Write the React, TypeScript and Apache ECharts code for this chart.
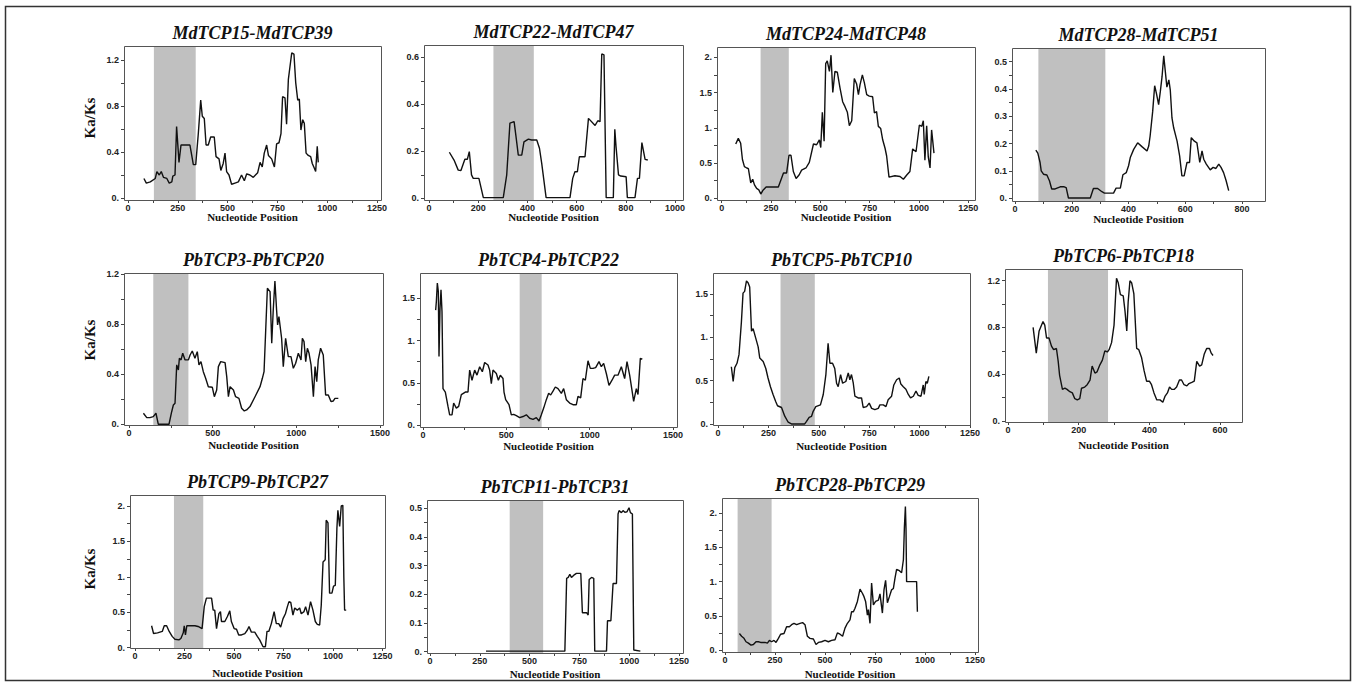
import React, { useEffect, useRef } from 'react';
import * as echarts from 'echarts';

const titles = [
  'MdTCP15-MdTCP39', 'MdTCP22-MdTCP47', 'MdTCP24-MdTCP48', 'MdTCP28-MdTCP51',
  'PbTCP3-PbTCP20', 'PbTCP4-PbTCP22', 'PbTCP5-PbTCP10', 'PbTCP6-PbTCP18',
  'PbTCP9-PbTCP27', 'PbTCP11-PbTCP31', 'PbTCP28-PbTCP29',
];

// ---- Ka/Ks sliding-window values (x = nucleotide position) ----
const p1X = [80, 92, 112, 137, 145, 157, 167, 178, 195, 207, 220, 225, 236, 244, 256, 266, 311, 320, 328, 340, 353, 365, 373, 383, 392, 403, 415, 433, 442, 457, 466, 478, 487, 495, 507, 520, 537, 554, 570, 584, 596, 612, 629, 651, 663, 674, 684, 696, 705, 721, 735, 746, 758, 768, 776, 788, 796, 805, 813, 822, 833, 842, 852, 860, 868, 877, 885, 894, 905, 917, 925, 935, 942, 950, 955];
const p1Y = [0.17, 0.13, 0.14, 0.17, 0.23, 0.2, 0.23, 0.18, 0.17, 0.13, 0.14, 0.19, 0.2, 0.62, 0.31, 0.46, 0.46, 0.37, 0.29, 0.29, 0.56, 0.85, 0.71, 0.69, 0.46, 0.46, 0.53, 0.53, 0.36, 0.34, 0.24, 0.3, 0.39, 0.23, 0.2, 0.12, 0.13, 0.14, 0.2, 0.15, 0.21, 0.2, 0.18, 0.22, 0.31, 0.27, 0.39, 0.46, 0.37, 0.34, 0.27, 0.47, 0.48, 0.56, 0.88, 0.87, 0.64, 1.03, 1.14, 1.26, 1.25, 1.0, 0.85, 0.86, 0.59, 0.68, 0.65, 0.39, 0.37, 0.36, 0.3, 0.26, 0.23, 0.45, 0.31];

const p2X = [83, 102, 119, 130, 146, 156, 164, 173, 180, 203, 221, 302, 316, 329, 346, 354, 363, 377, 386, 404, 417, 438, 449, 458, 476, 573, 584, 593, 603, 611, 634, 648, 675, 686, 695, 702, 711, 720, 749, 755, 760, 770, 779, 801, 806, 837, 847, 855, 865, 878, 889];
const p2Y = [0.196, 0.163, 0.12, 0.118, 0.166, 0.166, 0.199, 0.1, 0.085, 0.085, 0.003, 0.003, 0.1, 0.32, 0.326, 0.26, 0.184, 0.184, 0.24, 0.252, 0.248, 0.248, 0.213, 0.15, 0.003, 0.003, 0.085, 0.113, 0.113, 0.177, 0.177, 0.34, 0.31, 0.33, 0.326, 0.614, 0.61, 0.003, 0.003, 0.294, 0.22, 0.1, 0.095, 0.092, 0.003, 0.003, 0.085, 0.085, 0.237, 0.166, 0.163];

const p3X = [71, 84, 96, 105, 115, 127, 135, 147, 157, 166, 177, 188, 198, 208, 225, 270, 287, 313, 329, 341, 351, 363, 377, 392, 405, 427, 444, 465, 481, 495, 502, 510, 519, 527, 535, 546, 554, 563, 574, 586, 600, 613, 625, 637, 647, 659, 672, 684, 693, 701, 713, 723, 735, 748, 765, 774, 785, 794, 806, 816, 828, 836, 848, 878, 904, 921, 938, 954, 968, 985, 1002, 1014, 1022, 1030, 1039, 1047, 1056, 1064, 1076];
const p3Y = [0.77, 0.85, 0.78, 0.55, 0.45, 0.43, 0.42, 0.22, 0.27, 0.19, 0.14, 0.12, 0.06, 0.11, 0.16, 0.16, 0.16, 0.36, 0.36, 0.61, 0.61, 0.38, 0.28, 0.33, 0.4, 0.43, 0.51, 0.77, 0.76, 0.83, 0.72, 1.22, 0.81, 1.91, 1.95, 1.8, 2.03, 1.5, 1.8, 1.79, 1.56, 1.37, 1.3, 1.22, 1.03, 1.1, 1.7, 1.62, 1.47, 1.61, 1.75, 1.64, 1.47, 1.45, 1.44, 1.21, 1.23, 1.02, 0.99, 0.83, 0.71, 0.6, 0.3, 0.32, 0.31, 0.27, 0.33, 0.38, 0.7, 0.66, 1.04, 1.02, 1.1, 0.54, 1.03, 0.59, 0.43, 0.97, 0.64];

const p4X = [73, 80, 88, 92, 100, 112, 121, 129, 141, 159, 173, 180, 188, 265, 276, 291, 306, 315, 347, 356, 371, 380, 392, 400, 406, 418, 432, 447, 465, 471, 476, 485, 492, 498, 506, 512, 518, 524, 529, 535, 542, 547, 553, 559, 571, 580, 588, 596, 606, 615, 621, 632, 641, 651, 659, 665, 674, 688, 698, 708, 718, 726, 735, 744, 753];
const p4Y = [0.176, 0.165, 0.131, 0.1, 0.088, 0.085, 0.064, 0.034, 0.034, 0.042, 0.042, 0.039, 0.001, 0.001, 0.036, 0.036, 0.024, 0.019, 0.019, 0.037, 0.037, 0.086, 0.094, 0.119, 0.149, 0.179, 0.203, 0.189, 0.173, 0.191, 0.228, 0.318, 0.412, 0.385, 0.343, 0.391, 0.445, 0.521, 0.47, 0.407, 0.433, 0.397, 0.294, 0.258, 0.209, 0.155, 0.082, 0.082, 0.131, 0.131, 0.222, 0.209, 0.203, 0.131, 0.173, 0.143, 0.125, 0.104, 0.113, 0.109, 0.125, 0.113, 0.094, 0.064, 0.028];

const p5X = [86, 106, 125, 145, 161, 175, 239, 255, 265, 275, 285, 295, 301, 311, 321, 335, 355, 365, 378, 394, 408, 418, 430, 444, 458, 474, 498, 510, 524, 534, 548, 574, 584, 594, 604, 624, 637, 657, 673, 689, 703, 723, 753, 783, 797, 807, 817, 827, 843, 853, 862, 872, 882, 888, 896, 912, 922, 936, 952, 968, 982, 996, 1012, 1028, 1036, 1046, 1056, 1066, 1076, 1088, 1102, 1112, 1122, 1131, 1145, 1161, 1175, 1191, 1207, 1221, 1231, 1251];
const p5Y = [0.088, 0.053, 0.053, 0.061, 0.088, 0.0, 0.0, 0.1, 0.154, 0.168, 0.474, 0.434, 0.527, 0.514, 0.567, 0.514, 0.514, 0.553, 0.585, 0.527, 0.58, 0.474, 0.5, 0.42, 0.367, 0.3, 0.295, 0.22, 0.274, 0.46, 0.5, 0.492, 0.38, 0.22, 0.3, 0.274, 0.22, 0.207, 0.128, 0.106, 0.114, 0.141, 0.22, 0.3, 0.367, 0.42, 0.753, 1.086, 1.059, 0.647, 0.913, 1.144, 0.913, 0.793, 0.86, 0.687, 0.46, 0.687, 0.54, 0.54, 0.447, 0.487, 0.567, 0.514, 0.687, 0.66, 0.5, 0.607, 0.567, 0.474, 0.22, 0.46, 0.34, 0.514, 0.607, 0.553, 0.234, 0.234, 0.181, 0.186, 0.207, 0.207];

const p6X = [76, 80, 86, 92, 96, 102, 108, 114, 120, 134, 150, 160, 174, 184, 200, 214, 230, 254, 270, 280, 294, 310, 324, 340, 356, 370, 390, 400, 410, 420, 440, 452, 464, 480, 486, 496, 516, 530, 544, 560, 580, 600, 620, 640, 660, 680, 696, 710, 724, 740, 754, 766, 780, 794, 810, 830, 844, 860, 880, 900, 920, 930, 946, 960, 974, 990, 1004, 1020, 1036, 1056, 1070, 1084, 1100, 1116, 1134, 1150, 1170, 1190, 1210, 1224, 1240, 1254, 1264, 1280, 1290, 1304, 1316];
const p6Y = [1.36, 1.46, 1.68, 1.58, 0.81, 1.38, 1.6, 1.34, 0.43, 0.39, 0.22, 0.12, 0.12, 0.26, 0.2, 0.22, 0.36, 0.39, 0.39, 0.65, 0.53, 0.65, 0.59, 0.69, 0.63, 0.74, 0.71, 0.65, 0.49, 0.65, 0.61, 0.53, 0.59, 0.55, 0.39, 0.3, 0.24, 0.12, 0.126, 0.11, 0.087, 0.1, 0.12, 0.08, 0.067, 0.087, 0.047, 0.12, 0.2, 0.3, 0.375, 0.355, 0.4, 0.45, 0.43, 0.375, 0.43, 0.3, 0.26, 0.24, 0.24, 0.34, 0.32, 0.55, 0.53, 0.76, 0.67, 0.67, 0.68, 0.75, 0.69, 0.73, 0.61, 0.47, 0.53, 0.59, 0.59, 0.69, 0.55, 0.75, 0.59, 0.41, 0.28, 0.43, 0.36, 0.79, 0.78];

const p7X = [66, 75, 83, 94, 104, 116, 124, 132, 141, 149, 157, 166, 174, 187, 199, 207, 224, 237, 248, 260, 273, 286, 295, 315, 331, 348, 364, 430, 439, 452, 464, 472, 485, 508, 522, 535, 546, 555, 568, 579, 588, 596, 608, 618, 634, 646, 654, 662, 671, 679, 695, 712, 720, 737, 750, 762, 778, 795, 803, 820, 833, 844, 861, 872, 886, 899, 907, 919, 932, 944, 955, 969, 982, 993, 1007, 1018, 1023, 1031, 1038, 1046];
const p7Y = [0.66, 0.49, 0.65, 0.7, 0.8, 1.18, 1.51, 1.53, 1.65, 1.63, 1.58, 1.07, 1.1, 0.99, 0.89, 0.76, 0.72, 0.64, 0.53, 0.43, 0.34, 0.26, 0.21, 0.19, 0.09, 0.02, 0.0, 0.0, 0.03, 0.077, 0.088, 0.146, 0.2, 0.22, 0.34, 0.57, 0.93, 0.7, 0.7, 0.64, 0.47, 0.43, 0.57, 0.47, 0.49, 0.59, 0.51, 0.57, 0.47, 0.32, 0.3, 0.3, 0.19, 0.2, 0.24, 0.18, 0.165, 0.18, 0.22, 0.22, 0.2, 0.28, 0.32, 0.45, 0.51, 0.53, 0.46, 0.43, 0.4, 0.34, 0.3, 0.32, 0.38, 0.33, 0.32, 0.45, 0.34, 0.49, 0.47, 0.55];

const p8X = [71, 80, 88, 99, 104, 109, 116, 123, 129, 137, 142, 146, 154, 161, 167, 175, 182, 189, 196, 203, 208, 217, 224, 232, 238, 246, 252, 260, 267, 274, 281, 286, 293, 300, 307, 312, 318, 326, 331, 336, 340, 345, 350, 356, 364, 370, 378, 385, 392, 400, 406, 413, 421, 430, 438, 444, 451, 457, 463, 470, 477, 485, 491, 498, 506, 512, 520, 527, 534, 542, 548, 555, 562, 570, 575, 580];
const p8Y = [0.8, 0.58, 0.77, 0.85, 0.82, 0.71, 0.71, 0.64, 0.61, 0.62, 0.51, 0.39, 0.27, 0.28, 0.27, 0.25, 0.24, 0.19, 0.18, 0.19, 0.28, 0.29, 0.31, 0.35, 0.47, 0.41, 0.42, 0.48, 0.52, 0.6, 0.59, 0.61, 0.67, 0.82, 1.22, 1.18, 1.08, 1.07, 0.94, 0.77, 1.02, 1.2, 1.18, 1.09, 0.62, 0.61, 0.54, 0.43, 0.34, 0.34, 0.31, 0.24, 0.18, 0.18, 0.16, 0.21, 0.24, 0.29, 0.27, 0.27, 0.29, 0.35, 0.35, 0.31, 0.3, 0.32, 0.33, 0.34, 0.51, 0.47, 0.48, 0.57, 0.62, 0.62, 0.58, 0.56];

const p9X = [84, 94, 114, 138, 148, 160, 173, 188, 202, 222, 232, 244, 249, 255, 262, 277, 303, 319, 339, 350, 361, 387, 395, 403, 412, 424, 432, 437, 454, 467, 479, 487, 501, 513, 524, 538, 555, 568, 576, 588, 605, 618, 630, 647, 659, 667, 676, 689, 703, 714, 726, 736, 748, 760, 770, 778, 787, 798, 807, 820, 832, 840, 854, 862, 874, 887, 899, 911, 921, 933, 941, 950, 961, 966, 975, 983, 995, 1003, 1012, 1020, 1025, 1034, 1042, 1050, 1055, 1059, 1067];
const p9Y = [0.31, 0.2, 0.21, 0.23, 0.31, 0.31, 0.23, 0.16, 0.12, 0.11, 0.13, 0.21, 0.31, 0.18, 0.31, 0.31, 0.31, 0.3, 0.27, 0.58, 0.7, 0.7, 0.53, 0.53, 0.27, 0.48, 0.51, 0.37, 0.37, 0.44, 0.52, 0.37, 0.27, 0.26, 0.18, 0.18, 0.2, 0.25, 0.3, 0.22, 0.22, 0.16, 0.11, 0.014, 0.014, 0.23, 0.23, 0.34, 0.51, 0.34, 0.34, 0.29, 0.41, 0.48, 0.58, 0.65, 0.64, 0.46, 0.56, 0.53, 0.56, 0.48, 0.51, 0.58, 0.46, 0.65, 0.53, 0.37, 0.33, 0.32, 0.6, 1.21, 1.24, 1.8, 1.76, 0.77, 0.77, 0.87, 0.88, 1.68, 1.94, 1.71, 2.0, 2.01, 1.0, 0.53, 0.53];

const p10X = [281, 677, 686, 694, 702, 710, 722, 735, 757, 765, 786, 794, 799, 811, 822, 827, 886, 891, 908, 919, 936, 944, 949, 961, 969, 978, 989, 999, 1006, 1016, 1023, 1056];
const p10Y = [0.002, 0.002, 0.256, 0.259, 0.27, 0.259, 0.267, 0.273, 0.273, 0.136, 0.136, 0.128, 0.252, 0.259, 0.256, 0.002, 0.002, 0.108, 0.108, 0.238, 0.238, 0.48, 0.492, 0.485, 0.492, 0.486, 0.488, 0.502, 0.485, 0.48, 0.006, 0.002];

const p11X = [72, 83, 95, 105, 117, 130, 142, 155, 167, 178, 200, 212, 222, 233, 245, 255, 267, 278, 295, 308, 322, 333, 345, 358, 375, 388, 400, 412, 425, 442, 455, 467, 483, 500, 517, 533, 550, 562, 575, 588, 600, 612, 625, 633, 642, 650, 662, 675, 687, 695, 703, 712, 717, 725, 733, 742, 753, 767, 775, 787, 795, 803, 812, 822, 833, 842, 850, 858, 872, 883, 892, 897, 902, 905, 908, 958, 962];
const p11Y = [0.24, 0.2, 0.17, 0.12, 0.1, 0.07, 0.08, 0.12, 0.12, 0.11, 0.11, 0.1, 0.14, 0.12, 0.14, 0.11, 0.17, 0.23, 0.24, 0.34, 0.34, 0.37, 0.39, 0.37, 0.39, 0.4, 0.37, 0.2, 0.17, 0.16, 0.08, 0.11, 0.12, 0.14, 0.12, 0.14, 0.15, 0.25, 0.23, 0.2, 0.32, 0.39, 0.44, 0.56, 0.56, 0.61, 0.71, 0.89, 0.83, 0.78, 0.71, 0.51, 0.59, 0.39, 0.98, 0.66, 0.71, 0.73, 0.82, 0.54, 0.88, 1.02, 0.69, 0.78, 0.88, 0.9, 1.05, 1.18, 1.16, 1.13, 1.32, 1.8, 2.1, 1.78, 1.0, 1.0, 0.56];

const seriesX = [p1X, p2X, p3X, p4X, p5X, p6X, p7X, p8X, p9X, p10X, p11X];
const seriesY = [p1Y, p2Y, p3Y, p4Y, p5Y, p6Y, p7Y, p8Y, p9Y, p10Y, p11Y];

// shaded (grey) regions, nucleotide start / end
const shadeStart = [130, 262, 197, 82, 145, 580, 310, 113, 197, 400, 63];
const shadeEnd = [340, 426, 340, 318, 355, 712, 480, 283, 345, 568, 233];

// tick labels
const xTicks1250 = [0, 250, 500, 750, 1000, 1250];
const xTicks1000 = [0, 200, 400, 600, 800, 1000];
const xTicks800 = [0, 200, 400, 600, 800];
const xTicks1500 = [0, 500, 1000, 1500];
const xTicks600 = [0, 200, 400, 600];
const yTicks12 = [0, 0.4, 0.8, 1.2];
const yTicks06 = [0, 0.2, 0.4, 0.6];
const yTicks2 = [0, 0.5, 1, 1.5, 2];
const yTicks05 = [0, 0.1, 0.2, 0.3, 0.4, 0.5];
const yTicks15 = [0, 0.5, 1, 1.5];

// layout: plot box [left, top, right, bottom] in px; axis extents
const layout = [
  { box: [124, 46, 381, 200], x: [-20, 1270], y: [-0.017, 1.32], xt: xTicks1250, yt: yTicks12, yl: 118, xl: 217 },
  { box: [424, 45, 683, 200], x: [-20, 1032], y: [-0.007, 0.652], xt: xTicks1000, yt: yTicks06, yl: 0, xl: 217 },
  { box: [717, 47, 975, 200], x: [-24, 1284], y: [-0.024, 2.146], xt: xTicks1250, yt: yTicks2, yl: 0, xl: 217 },
  { box: [1012, 48, 1265, 201], x: [-11, 881], y: [-0.01, 0.55], xt: xTicks800, yt: yTicks05, yl: 0, xl: 219 },
  { box: [124, 273, 383, 425], x: [-30, 1518], y: [-0.006, 1.208], xt: xTicks1500, yt: yTicks12, yl: 340, xl: 445 },
  { box: [420, 273, 677, 427], x: [-18, 1524], y: [-0.024, 1.8], xt: xTicks1500, yt: yTicks15, yl: 0, xl: 446 },
  { box: [713, 273, 970, 425], x: [-25, 1250], y: [-0.012, 1.742], xt: xTicks1250, yt: yTicks15, yl: 0, xl: 446 },
  { box: [1005, 269, 1242, 422], x: [-8.5, 662], y: [-0.009, 1.3], xt: xTicks600, yt: yTicks12, yl: 0, xl: 445 },
  { box: [130, 495, 385, 648], x: [-25, 1263], y: [-0.004, 2.155], xt: xTicks1250, yt: yTicks2, yl: 569, xl: 673 },
  { box: [427, 500, 683, 653], x: [-15, 1270], y: [-0.0045, 0.529], xt: xTicks1250, yt: yTicks05, yl: 0, xl: 674 },
  { box: [722, 498, 978, 652], x: [-15, 1265], y: [-0.03, 2.224], xt: xTicks1250, yt: yTicks2, yl: 0, xl: 674 },
];

function withMinor(t: number[]) {
  const out: number[] = [];
  for (let i = 0; i < t.length; i++) {
    out.push(t[i]);
    if (i < t.length - 1) out.push(Math.round(((t[i] + t[i + 1]) / 2) * 1000) / 1000);
  }
  return out;
}

function fmtY(v: number) {
  const r = Math.round(v * 1000) / 1000;
  return Number.isInteger(r) ? `${r}.` : String(r);
}

function fmtX(v: number) {
  return String(Math.round(v));
}

export default function App() {
  const ref = useRef<HTMLDivElement>(null);
  useEffect(() => {
    const chart = echarts.init(ref.current!, null, { renderer: 'svg' });
    const grid: any[] = [];
    const xAxis: any[] = [];
    const yAxis: any[] = [];
    const series: any[] = [];
    const graphic: any[] = [];
    const labelStyle = { fontSize: 9, fontWeight: 'bold', color: '#222', fontFamily: 'Liberation Sans, Arial, sans-serif' };

    layout.forEach((L, i) => {
      const [l, t, r, b] = L.box;
      grid.push({ left: l, top: t, width: r - l, height: b - t, containLabel: false });
      xAxis.push({
        type: 'value', gridIndex: i, min: L.x[0], max: L.x[1],
        axisLine: { show: false, onZero: false },
        splitLine: { show: false },
        axisTick: { show: true, inside: false, length: 3, customValues: withMinor(L.xt), lineStyle: { color: '#444', width: 1 } },
        axisLabel: { show: true, customValues: L.xt, margin: 3, formatter: (v: number) => fmtX(v), ...labelStyle },
      });
      yAxis.push({
        type: 'value', gridIndex: i, min: L.y[0], max: L.y[1],
        axisLine: { show: false, onZero: false },
        splitLine: { show: false },
        axisTick: { show: true, inside: false, length: 3, customValues: withMinor(L.yt), lineStyle: { color: '#444', width: 1 } },
        axisLabel: { show: true, customValues: L.yt, margin: 5, formatter: (v: number) => fmtY(v), ...labelStyle },
      });
      const xs = seriesX[i];
      const ys = seriesY[i];
      series.push({
        type: 'line', xAxisIndex: i, yAxisIndex: i, showSymbol: false, symbol: 'none',
        data: xs.map((x, k) => [x, ys[k]]),
        lineStyle: { color: '#111', width: 1.4 },
        z: 5,
        markArea: {
          silent: true,
          itemStyle: { color: '#c0c0c0', opacity: 1 },
          data: [[{ xAxis: shadeStart[i] }, { xAxis: shadeEnd[i] }]],
        },
      });
      // plot box border
      graphic.push({
        type: 'rect', silent: true, z: 100,
        shape: { x: l + 0.5, y: t + 0.5, width: r - l, height: b - t },
        style: { fill: 'none', stroke: '#555', lineWidth: 1 },
      });
      // title
      graphic.push({
        type: 'text', silent: true, z: 100, x: (l + r) / 2, y: t - 13,
        style: {
          text: titles[i], fill: '#111', align: 'center', verticalAlign: 'middle',
          textAlign: 'center', textVerticalAlign: 'middle',
          font: 'italic bold 18px "Liberation Serif", "Times New Roman", serif',
        },
      });
      // x axis name
      graphic.push({
        type: 'text', silent: true, z: 100, x: (l + r) / 2, y: L.xl,
        style: {
          text: 'Nucleotide Position', fill: '#111', align: 'center', verticalAlign: 'middle',
          textAlign: 'center', textVerticalAlign: 'middle',
          font: 'bold 11px "Liberation Serif", "Times New Roman", serif',
        },
      });
      if (L.yl) {
        graphic.push({
          type: 'text', silent: true, z: 100, x: 90, y: L.yl, rotation: Math.PI / 2,
          style: {
            text: 'Ka/Ks', fill: '#111', align: 'center', verticalAlign: 'middle',
            textAlign: 'center', textVerticalAlign: 'middle',
            font: 'bold 15px "Liberation Serif", "Times New Roman", serif',
          },
        });
      }
    });

    // outer frame
    graphic.push({
      type: 'rect', silent: true, z: 100,
      shape: { x: 5.5, y: 6.5, width: 1345, height: 674 },
      style: { fill: 'none', stroke: '#333', lineWidth: 1.5 },
    });

    chart.setOption({
      animation: false,
      backgroundColor: '#fff',
      grid, xAxis, yAxis, series, graphic,
    });
    return () => chart.dispose();
  }, []);

  return (
    <div
      ref={ref}
      style={{ position: 'fixed', left: 0, top: 0, width: 1357, height: 686, background: '#fff' }}
    />
  );
}
